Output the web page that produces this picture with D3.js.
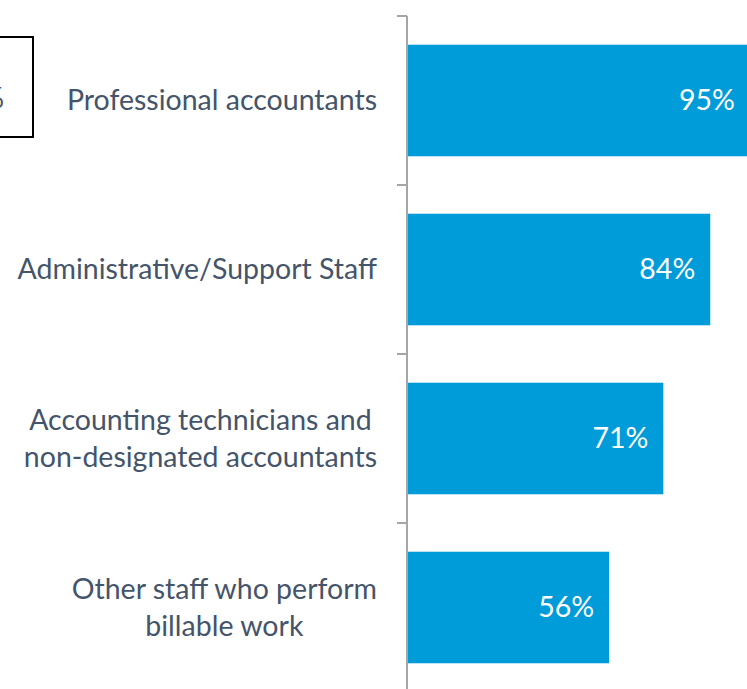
<!DOCTYPE html>
<html>
<head>
<meta charset="utf-8">
<script src="https://cdn.jsdelivr.net/npm/d3@7"></script>
<style>
  html, body { margin: 0; padding: 0; background: #fff; overflow: hidden; }
  svg { display: block; }
</style>
</head>
<body>
<svg id="chart" width="747" height="689"></svg>
<script>
'use strict';

const categories = [
    ['Professional accountants'],
    ['Administrative/Support Staff'],
    ['Accounting technicians and', 'non-designated accountants'],
    ['Other staff who perform', 'billable work']
];
const values = [95, 84, 71, 56];

const width = 747,
      height = 689;
const axisX = 407,
      labelRight = 377,
      bandTop = 16,
      bandStep = 169;

const barColor = '#009bd9',
      textColor = '#44546a',
      axisColor = '#a6a6a6';
const font = 'Lato, "Open Sans", sans-serif';
const fontSize = '28.5px';

let svg = d3.select('#chart');

let x = d3.scaleLinear()
          .domain([0, 100])
          .range([axisX, axisX + 361]);

let y = d3.scaleBand()
          .domain(d3.range(categories.length))
          .range([bandTop, bandTop + bandStep * categories.length])
          .paddingInner(0.34)
          .paddingOuter(0.17);

// bars
svg.append('g')
   .selectAll('rect')
   .data(values)
   .join('rect')
   .attr('x', x(0))
   .attr('y', (d, i) => y(i))
   .attr('width', d => x(d) - x(0))
   .attr('height', y.bandwidth())
   .attr('fill', barColor);

// value labels
svg.append('g')
   .selectAll('text')
   .data(values)
   .join('text')
   .attr('x', d => x(d) - 15)
   .attr('y', (d, i) => y(i) + y.bandwidth() / 2)
   .attr('dy', '0.35em')
   .attr('text-anchor', 'end')
   .attr('fill', '#fff')
   .style('font-family', font)
   .style('font-size', fontSize)
   .text(d => d + '%');

// axis with ticks on band edges
let axisG = svg.append('g');
axisG.append('line')
     .attr('x1', axisX).attr('x2', axisX)
     .attr('y1', bandTop).attr('y2', height + 5)
     .attr('stroke', axisColor)
     .attr('stroke-width', 2);
axisG.selectAll('line.tick')
     .data(d3.range(categories.length + 1))
     .join('line')
     .attr('class', 'tick')
     .attr('x1', axisX - 10).attr('x2', axisX)
     .attr('y1', i => bandTop + i * bandStep)
     .attr('y2', i => bandTop + i * bandStep)
     .attr('stroke', axisColor)
     .attr('stroke-width', 2);

// category labels, lines centred within a right-aligned block
let lineH = 37;
categories.forEach(function(lines, i) {
    let g = svg.append('g');
    let cy = y(i) + y.bandwidth() / 2;
    let texts = lines.map(function(line, j) {
        return g.append('text')
                .attr('y', cy + (j - (lines.length - 1) / 2) * lineH)
                .attr('dy', '0.35em')
                .attr('text-anchor', 'middle')
                .attr('fill', textColor)
                .style('font-family', font)
                .style('font-size', fontSize)
                .text(line);
    });
    let maxW = d3.max(texts, t => t.node().getComputedTextLength());
    texts.forEach(t => t.attr('x', labelRight - maxW / 2));
});

// clipped legend box on the left edge
svg.append('rect')
   .attr('x', -200)
   .attr('y', 37)
   .attr('width', 233)
   .attr('height', 100)
   .attr('fill', 'none')
   .attr('stroke', '#000')
   .attr('stroke-width', 2);
svg.append('text')
   .attr('x', 4)
   .attr('y', 108)
   .attr('text-anchor', 'end')
   .attr('fill', textColor)
   .style('font-family', font)
   .style('font-size', fontSize)
   .text('%');
</script>
</body>
</html>
